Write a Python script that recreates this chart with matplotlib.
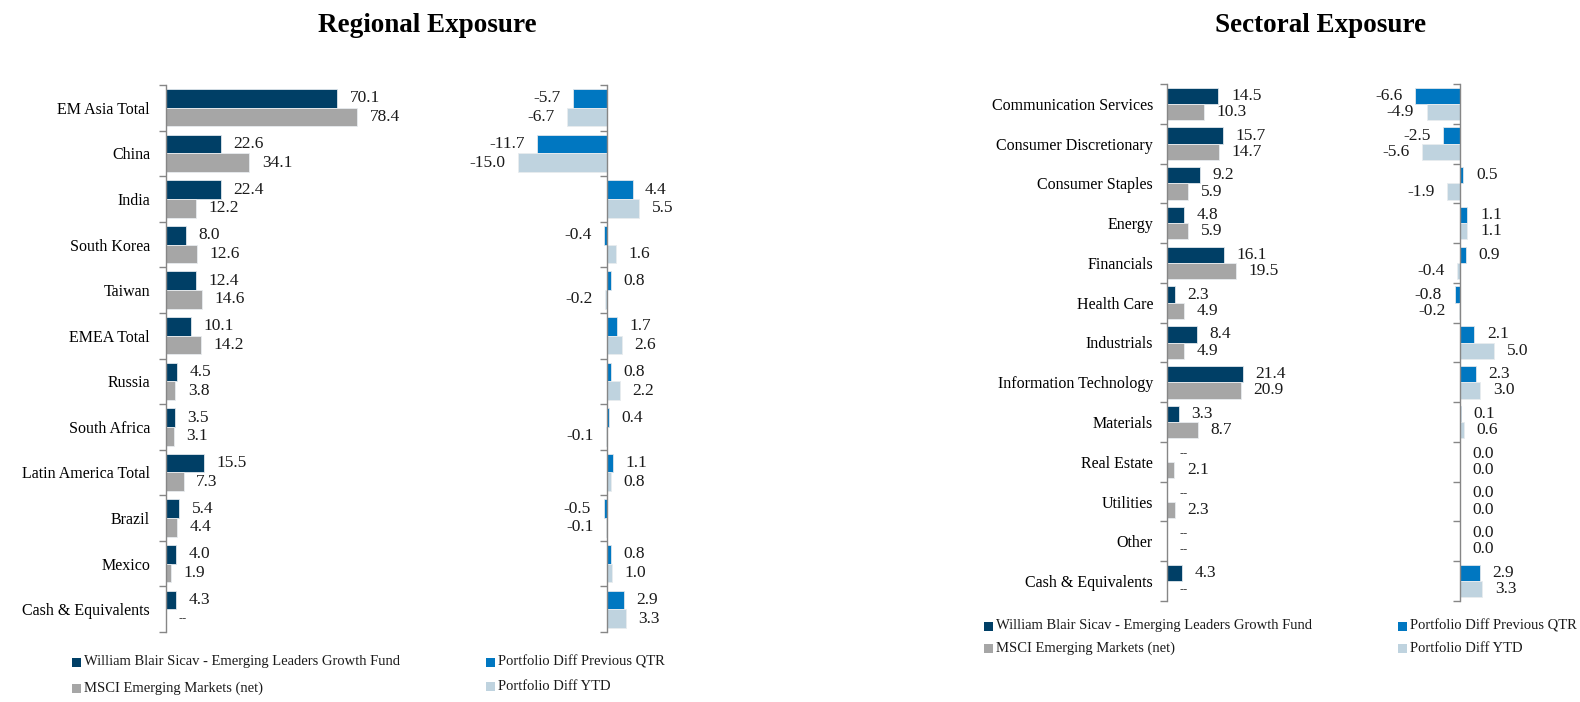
import matplotlib
matplotlib.use("Agg")
import matplotlib.pyplot as plt
from matplotlib.patches import Rectangle
import numpy as np

plt.rcParams['font.family'] = ['Liberation Serif', 'DejaVu Serif']

# ---------------- data ----------------
reg_categories = ["EM Asia Total", "China", "India", "South Korea", "Taiwan", "EMEA Total",
                  "Russia", "South Africa", "Latin America Total", "Brazil", "Mexico",
                  "Cash & Equivalents"]
reg_fund = [70.1, 22.6, 22.4, 8.0, 12.4, 10.1, 4.5, 3.5, 15.5, 5.4, 4.0, 4.3]
reg_msci = [78.4, 34.1, 12.2, 12.6, 14.6, 14.2, 3.8, 3.1, 7.3, 4.4, 1.9, None]
reg_qtr = [-5.7, -11.7, 4.4, -0.4, 0.8, 1.7, 0.8, 0.4, 1.1, -0.5, 0.8, 2.9]
reg_ytd = [-6.7, -15.0, 5.5, 1.6, -0.2, 2.6, 2.2, -0.1, 0.8, -0.1, 1.0, 3.3]

sec_categories = ["Communication Services", "Consumer Discretionary", "Consumer Staples",
                  "Energy", "Financials", "Health Care", "Industrials",
                  "Information Technology", "Materials", "Real Estate", "Utilities",
                  "Other", "Cash & Equivalents"]
sec_fund = [14.5, 15.7, 9.2, 4.8, 16.1, 2.3, 8.4, 21.4, 3.3, None, None, None, 4.3]
sec_msci = [10.3, 14.7, 5.9, 5.9, 19.5, 4.9, 4.9, 20.9, 8.7, 2.1, 2.3, None, None]
sec_qtr = [-6.6, -2.5, 0.5, 1.1, 0.9, -0.8, 2.1, 2.3, 0.1, 0.0, 0.0, 0.0, 2.9]
sec_ytd = [-4.9, -5.6, -1.9, 1.1, -0.4, -0.2, 5.0, 3.0, 0.6, 0.0, 0.0, 0.0, 3.3]

legend_fund = "William Blair Sicav - Emerging Leaders Growth Fund"
legend_msci = "MSCI Emerging Markets (net)"
legend_qtr = "Portfolio Diff Previous QTR"
legend_ytd = "Portfolio Diff YTD"

# ---------------- style ----------------
NAVY = '#003F66'
GREY = '#A6A6A6'
BLUE = '#0077C1'
LIGHT = '#BFD3DF'
SPINE = '#868686'
FS = 11.5
NFS = 12.5

W, H = 1580, 702
fig = plt.figure(figsize=(W / 100, H / 100), dpi=100)


def add_axes(left, right, top, bottom):
    return fig.add_axes([left / W, 1 - bottom / H, (right - left) / W, (bottom - top) / H])


def fmt(v):
    return '--' if v is None else f"{v:.1f}"


def draw(ax, cats, a, b, ca, cb, xlim, labels=True, pad=11):
    n = len(cats)
    y = np.arange(n)
    av = [0 if v is None else v for v in a]
    bv = [0 if v is None else v for v in b]
    h = 0.41
    ax.barh(y - h / 2, av, height=h, color=ca, edgecolor='#dfe6ec', linewidth=0.6)
    ax.barh(y + h / 2, bv, height=h, color=cb, edgecolor='#e8ecef', linewidth=0.6)
    for yy, vals in ((y - h / 2, a), (y + h / 2, b)):
        for yi, v in zip(yy, vals):
            x = 0 if v is None else v
            off = 9 if (v is None or v >= 0) else -9
            kw = dict(fontsize=NFS)
            if v is None:
                kw = dict(fontsize=9, family='DejaVu Serif')
            ax.annotate(fmt(v), (x, yi), xytext=(off, 0), textcoords='offset points',
                        ha='left' if off > 0 else 'right', va='center',
                        color='#1a1a1a', annotation_clip=False, **kw)
    ax.set_xlim(*xlim)
    ax.set_ylim(n - 0.5, -0.5)
    for s in ('top', 'right', 'bottom'):
        ax.spines[s].set_visible(False)
    ax.spines['left'].set_position(('data', 0))
    ax.spines['left'].set_color(SPINE)
    ax.spines['left'].set_linewidth(1.0)
    ax.set_xticks([])
    ax.set_yticks(y)
    ax.set_yticks(np.arange(n + 1) - 0.5, minor=True)
    ax.tick_params(axis='y', which='major', length=0, pad=pad, labelsize=FS)
    ax.tick_params(axis='y', which='minor', length=5, color=SPINE, width=1.0)
    if labels:
        ax.set_yticklabels(cats)
    else:
        ax.set_yticklabels([])
    ax.patch.set_alpha(0)


# Regional
ax1 = add_axes(166, 166 + 84 * 2.44, 85, 632)
draw(ax1, reg_categories, reg_fund, reg_msci, NAVY, GREY, (0, 84), pad=11.5)
ax2 = add_axes(606.5 - 16 * 5.93, 606.5 + 6 * 5.93, 85, 632)
draw(ax2, reg_categories, reg_qtr, reg_ytd, BLUE, LIGHT, (-16, 6), labels=False)

# Sectoral
ax3 = add_axes(1167, 1167 + 25 * 3.55, 84, 601)
draw(ax3, sec_categories, sec_fund, sec_msci, NAVY, GREY, (0, 25), pad=10)
ax4 = add_axes(1460 - 7 * 6.8, 1460 + 6 * 6.8, 84, 601)
draw(ax4, sec_categories, sec_qtr, sec_ytd, BLUE, LIGHT, (-7, 6), labels=False)

# Titles
fig.text(427 / W, 1 - 26 / H, "Regional Exposure", ha='center', va='center',
         fontsize=19.5, fontweight='bold')
fig.text(1321 / W, 1 - 26 / H, "Sectoral Exposure", ha='center', va='center',
         fontsize=19.5, fontweight='bold')


def legend_item(x, y, color, text):
    s = 9
    fig.add_artist(Rectangle(((x - s / 2) / W, 1 - (y + s / 2) / H), s / W, s / H,
                             transform=fig.transFigure, facecolor=color, edgecolor='none'))
    fig.text((x + 8) / W, 1 - y / H, text, ha='left', va='center', fontsize=10.5,
             color='#1a1a1a')


legend_item(76, 662, NAVY, legend_fund)
legend_item(76, 688, GREY, legend_msci)
legend_item(490, 662, BLUE, legend_qtr)
legend_item(490, 686, LIGHT, legend_ytd)
legend_item(988, 626, NAVY, legend_fund)
legend_item(988, 648, GREY, legend_msci)
legend_item(1402, 626, BLUE, legend_qtr)
legend_item(1402, 648, LIGHT, legend_ytd)

fig.savefig("out.png", dpi=100)
